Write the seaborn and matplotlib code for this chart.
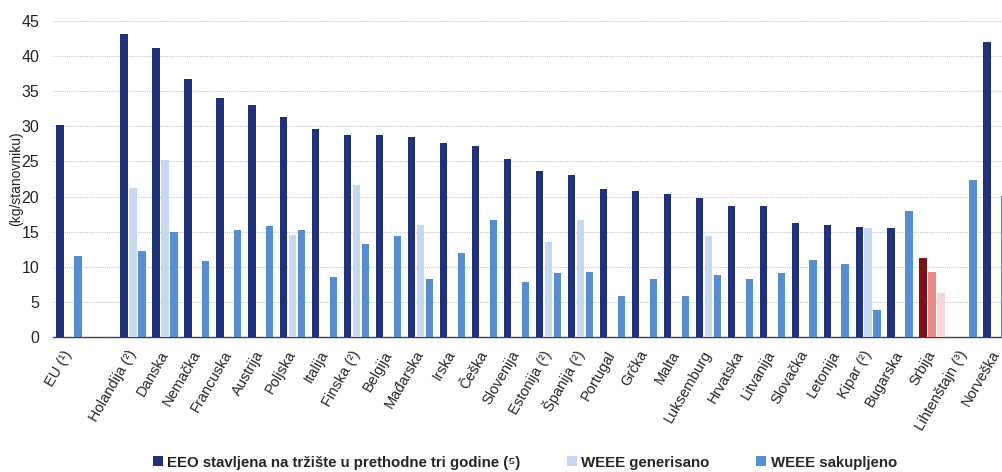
import numpy as np
import pandas as pd
import matplotlib
matplotlib.use("Agg")
import matplotlib.pyplot as plt
from matplotlib.patches import Patch
import seaborn as sns

nan = np.nan

countries = ['EU (¹)', ' ', 'Holandija (²)', 'Danska', 'Nemačka', 'Francuska', 'Austrija',
             'Poljska', 'Italija', 'Finska (²)', 'Belgija', 'Mađarska', 'Irska', 'Češka',
             'Slovenija', 'Estonija (²)', 'Španija (²)', 'Portugal', 'Grčka', 'Malta',
             'Luksemburg', 'Hrvatska', 'Litvanija', 'Slovačka', 'Letonija', 'Kipar (²)',
             'Bugarska', 'Srbija', 'Lihtenštajn (³)', 'Norveška']

eeo = [30.2, nan, 43.2, 41.1, 36.8, 34.0, 33.1, 31.3, 29.6, 28.8, 28.7, 28.5, 27.6, 27.2,
       25.4, 23.6, 23.0, 21.1, 20.8, 20.3, 19.8, 18.7, 18.6, 16.3, 15.9, 15.7, 15.5, 11.2,
       nan, 42.0]
generated = [nan, nan, 21.2, 25.2, nan, nan, nan, 14.5, nan, 21.6, nan, 15.9, nan, nan,
             nan, 13.5, 16.6, nan, nan, nan, 14.4, nan, nan, nan, nan, 15.5, nan, 9.3,
             nan, nan]
collected = [11.6, nan, 12.2, 15.0, 10.8, 15.2, 15.8, 15.2, 8.6, 13.2, 14.4, 8.2, 12.0, 16.7,
             7.8, 9.1, 9.2, 5.8, 8.2, 5.8, 8.8, 8.3, 9.1, 10.9, 10.4, 3.8, 17.9, 6.3,
             22.4, 20.1]

series = ['EEO stavljena na tržište u prethodne tri godine (⁵)', 'WEEE generisano', 'WEEE sakupljeno']
colors = ['#1F3179', '#C6D9F1', '#558ED5']
serbia_colors = ['#7B1315', '#EC8B8B', '#FAD6D6']

df = pd.DataFrame({'zemlja': countries, series[0]: eeo, series[1]: generated, series[2]: collected})
long_df = df.melt(id_vars='zemlja', var_name='serija', value_name='vrednost').dropna()

sns.set_style('white')
plt.rcParams['font.family'] = ['Liberation Sans', 'DejaVu Sans']

fig = plt.figure(figsize=(10.02, 4.72), dpi=100)
ax = fig.add_axes([53 / 1002, 135 / 472, 959 / 1002, 316 / 472])

sns.barplot(data=long_df, x='zemlja', y='vrednost', hue='serija', order=countries,
            hue_order=series, palette=colors, width=0.84, gap=0.18, errorbar=None,
            saturation=1, linewidth=0, legend=False, ax=ax, zorder=3)

# Srbija in red tones
srb = countries.index('Srbija')
for p in ax.patches:
    cx = p.get_x() + p.get_width() / 2
    if abs(cx - srb) < 0.5:
        off = cx - srb
        if off < -0.1:
            p.set_facecolor(serbia_colors[0])
        elif off > 0.1:
            p.set_facecolor(serbia_colors[2])
        else:
            p.set_facecolor(serbia_colors[1])

ax.set_xlim(-0.5, len(countries) - 0.5)
ax.set_ylim(0, 45)
ax.set_yticks(range(0, 46, 5))
ax.yaxis.grid(True, color='#C8C8C8', linestyle=(0, (1, 1)), linewidth=0.8, zorder=0)
ax.xaxis.grid(False)
for s in ['top', 'right', 'left']:
    ax.spines[s].set_visible(False)
ax.spines['bottom'].set_color('#404040')
ax.spines['bottom'].set_linewidth(1.0)

ax.set_xticks(range(len(countries)))
ax.set_xticklabels(countries, rotation=60, ha='right', va='center', rotation_mode='anchor',
                   fontsize=10.5)
ax.set_xticks(np.arange(-0.5, len(countries), 1), minor=True)
ax.tick_params(axis='x', which='major', length=0, pad=10.5)
ax.tick_params(axis='x', which='minor', length=4, width=1, color='#404040', direction='out')
ax.tick_params(axis='y', length=0, labelsize=11.5, pad=10)

ax.set_xlabel('')
ax.set_ylabel('(kg/stanovniku)', fontsize=10)
ax.yaxis.set_label_coords(-0.031, 0.5)

handles = [Patch(facecolor=c, edgecolor='none') for c in colors]
fig.legend(handles, series, loc='center', bbox_to_anchor=(0.524, 0.02), ncol=3,
           frameon=False, prop={'weight': 'bold', 'size': 10.8}, handlelength=0.65,
           handleheight=0.65, handletextpad=0.3, columnspacing=3.1)

fig.savefig('out.png', dpi=100)
